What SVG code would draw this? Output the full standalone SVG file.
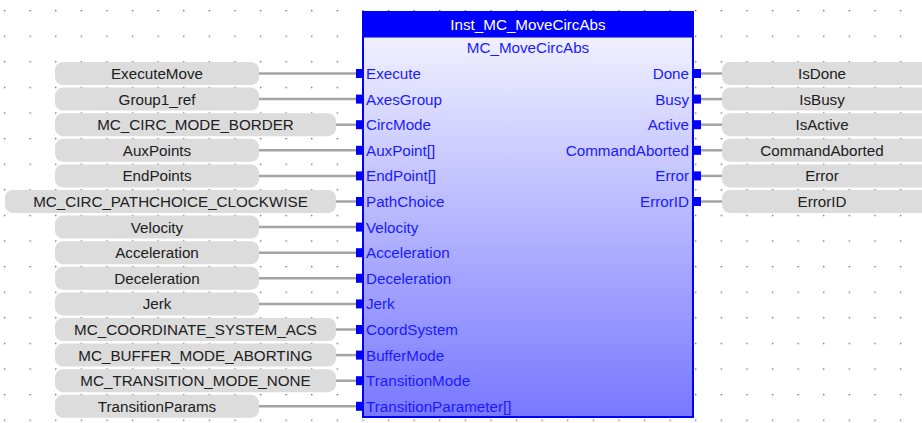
<svg xmlns="http://www.w3.org/2000/svg" width="922" height="423" viewBox="0 0 922 423">
<defs>
<pattern id="dots" patternUnits="userSpaceOnUse" x="29.5" y="10" width="25.6" height="25.6">
<rect x="0" y="0" width="1.3" height="1.3" fill="#606060"/>
</pattern>
<linearGradient id="body" x1="0" y1="0" x2="0" y2="1">
<stop offset="0" stop-color="#f8f8ff"/>
<stop offset="1" stop-color="#7878ff"/>
</linearGradient>
</defs>
<style>
text{font-family:"Liberation Sans",Arial,sans-serif;font-size:15.2px}
.var rect{fill:#dcdcdc}
.var text{fill:#202020;text-anchor:middle}
.pin{fill:#0000ff}
.lbl{fill:#1a1aff}
.in{text-anchor:start}
.out{text-anchor:end}
.wire{stroke:#a4a4a4;stroke-width:2.5;fill:none}
</style>
<rect width="922" height="423" fill="#fff"/>
<rect width="922" height="423" fill="url(#dots)"/>
<g id="connectors">
<line class="wire" x1="259" y1="73.5" x2="357" y2="73.5"/>
<line class="wire" x1="259" y1="99.1" x2="357" y2="99.1"/>
<line class="wire" x1="336" y1="124.7" x2="357" y2="124.7"/>
<line class="wire" x1="259" y1="150.3" x2="357" y2="150.3"/>
<line class="wire" x1="259" y1="175.9" x2="357" y2="175.9"/>
<line class="wire" x1="336" y1="201.5" x2="357" y2="201.5"/>
<line class="wire" x1="259" y1="227.1" x2="357" y2="227.1"/>
<line class="wire" x1="259" y1="252.7" x2="357" y2="252.7"/>
<line class="wire" x1="259" y1="278.3" x2="357" y2="278.3"/>
<line class="wire" x1="259" y1="303.9" x2="357" y2="303.9"/>
<line class="wire" x1="336" y1="329.5" x2="357" y2="329.5"/>
<line class="wire" x1="336" y1="355.1" x2="357" y2="355.1"/>
<line class="wire" x1="336" y1="380.7" x2="357" y2="380.7"/>
<line class="wire" x1="259" y1="406.3" x2="357" y2="406.3"/>
<line class="wire" x1="700" y1="73.5" x2="722" y2="73.5"/>
<line class="wire" x1="700" y1="99.1" x2="722" y2="99.1"/>
<line class="wire" x1="700" y1="124.7" x2="722" y2="124.7"/>
<line class="wire" x1="700" y1="150.3" x2="722" y2="150.3"/>
<line class="wire" x1="700" y1="175.9" x2="722" y2="175.9"/>
<line class="wire" x1="700" y1="201.5" x2="722" y2="201.5"/>
</g>
<g id="fb">
<rect x="363" y="12" width="330" height="405" fill="url(#body)" stroke="#0000ff" stroke-width="2"/>
<rect x="362" y="11" width="332" height="26.5" fill="#0000ff"/>
<text x="528" y="29.5" fill="#ffffff" text-anchor="middle">Inst_MC_MoveCircAbs</text>
<text x="528" y="53" class="lbl" text-anchor="middle">MC_MoveCircAbs</text>
<g class="pin">
<rect x="356" y="69" width="7" height="9"/>
<rect x="356" y="94.6" width="7" height="9"/>
<rect x="356" y="120.2" width="7" height="9"/>
<rect x="356" y="145.8" width="7" height="9"/>
<rect x="356" y="171.4" width="7" height="9"/>
<rect x="356" y="197" width="7" height="9"/>
<rect x="356" y="222.6" width="7" height="9"/>
<rect x="356" y="248.2" width="7" height="9"/>
<rect x="356" y="273.8" width="7" height="9"/>
<rect x="356" y="299.4" width="7" height="9"/>
<rect x="356" y="325" width="7" height="9"/>
<rect x="356" y="350.6" width="7" height="9"/>
<rect x="356" y="376.2" width="7" height="9"/>
<rect x="356" y="401.8" width="7" height="9"/>
<rect x="693" y="69" width="8" height="9"/>
<rect x="693" y="94.6" width="8" height="9"/>
<rect x="693" y="120.2" width="8" height="9"/>
<rect x="693" y="145.8" width="8" height="9"/>
<rect x="693" y="171.4" width="8" height="9"/>
<rect x="693" y="197" width="8" height="9"/>
</g>
<g class="lbl">
<text class="in" x="366" y="79">Execute</text>
<text class="in" x="366" y="104.6">AxesGroup</text>
<text class="in" x="366" y="130.2">CircMode</text>
<text class="in" x="366" y="155.8">AuxPoint[]</text>
<text class="in" x="366" y="181.4">EndPoint[]</text>
<text class="in" x="366" y="207">PathChoice</text>
<text class="in" x="366" y="232.6">Velocity</text>
<text class="in" x="366" y="258.2">Acceleration</text>
<text class="in" x="366" y="283.8">Deceleration</text>
<text class="in" x="366" y="309.4">Jerk</text>
<text class="in" x="366" y="335">CoordSystem</text>
<text class="in" x="366" y="360.6">BufferMode</text>
<text class="in" x="366" y="386.2">TransitionMode</text>
<text class="in" x="366" y="411.8">TransitionParameter[]</text>
<text class="out" x="689" y="79">Done</text>
<text class="out" x="689" y="104.6">Busy</text>
<text class="out" x="689" y="130.2">Active</text>
<text class="out" x="689" y="155.8">CommandAborted</text>
<text class="out" x="689" y="181.4">Error</text>
<text class="out" x="689" y="207">ErrorID</text>
</g>
</g>
<g id="in1" class="var"><rect x="55" y="62" width="204" height="23" rx="8"/><text x="157" y="79">ExecuteMove</text></g>
<g id="in2" class="var"><rect x="55" y="87.6" width="204" height="23" rx="8"/><text x="157" y="104.6">Group1_ref</text></g>
<g id="in3" class="var"><rect x="55" y="113.2" width="281" height="23" rx="8"/><text x="195.5" y="130.2">MC_CIRC_MODE_BORDER</text></g>
<g id="in4" class="var"><rect x="55" y="138.8" width="204" height="23" rx="8"/><text x="157" y="155.8">AuxPoints</text></g>
<g id="in5" class="var"><rect x="55" y="164.4" width="204" height="23" rx="8"/><text x="157" y="181.4">EndPoints</text></g>
<g id="in6" class="var"><rect x="5" y="190" width="331" height="23" rx="8"/><text x="170.5" y="207">MC_CIRC_PATHCHOICE_CLOCKWISE</text></g>
<g id="in7" class="var"><rect x="55" y="215.6" width="204" height="23" rx="8"/><text x="157" y="232.6">Velocity</text></g>
<g id="in8" class="var"><rect x="55" y="241.2" width="204" height="23" rx="8"/><text x="157" y="258.2">Acceleration</text></g>
<g id="in9" class="var"><rect x="55" y="266.8" width="204" height="23" rx="8"/><text x="157" y="283.8">Deceleration</text></g>
<g id="in10" class="var"><rect x="55" y="292.4" width="204" height="23" rx="8"/><text x="157" y="309.4">Jerk</text></g>
<g id="in11" class="var"><rect x="55" y="318" width="281" height="23" rx="8"/><text x="195.5" y="335">MC_COORDINATE_SYSTEM_ACS</text></g>
<g id="in12" class="var"><rect x="55" y="343.6" width="281" height="23" rx="8"/><text x="195.5" y="360.6">MC_BUFFER_MODE_ABORTING</text></g>
<g id="in13" class="var"><rect x="55" y="369.2" width="281" height="23" rx="8"/><text x="195.5" y="386.2">MC_TRANSITION_MODE_NONE</text></g>
<g id="in14" class="var"><rect x="55" y="394.8" width="204" height="23" rx="8"/><text x="157" y="411.8">TransitionParams</text></g>
<g id="out1" class="var"><rect x="722" y="62" width="210" height="23" rx="8"/><text x="822" y="79">IsDone</text></g>
<g id="out2" class="var"><rect x="722" y="87.6" width="210" height="23" rx="8"/><text x="822" y="104.6">IsBusy</text></g>
<g id="out3" class="var"><rect x="722" y="113.2" width="210" height="23" rx="8"/><text x="822" y="130.2">IsActive</text></g>
<g id="out4" class="var"><rect x="722" y="138.8" width="210" height="23" rx="8"/><text x="822" y="155.8">CommandAborted</text></g>
<g id="out5" class="var"><rect x="722" y="164.4" width="210" height="23" rx="8"/><text x="822" y="181.4">Error</text></g>
<g id="out6" class="var"><rect x="722" y="190" width="210" height="23" rx="8"/><text x="822" y="207">ErrorID</text></g>
</svg>
